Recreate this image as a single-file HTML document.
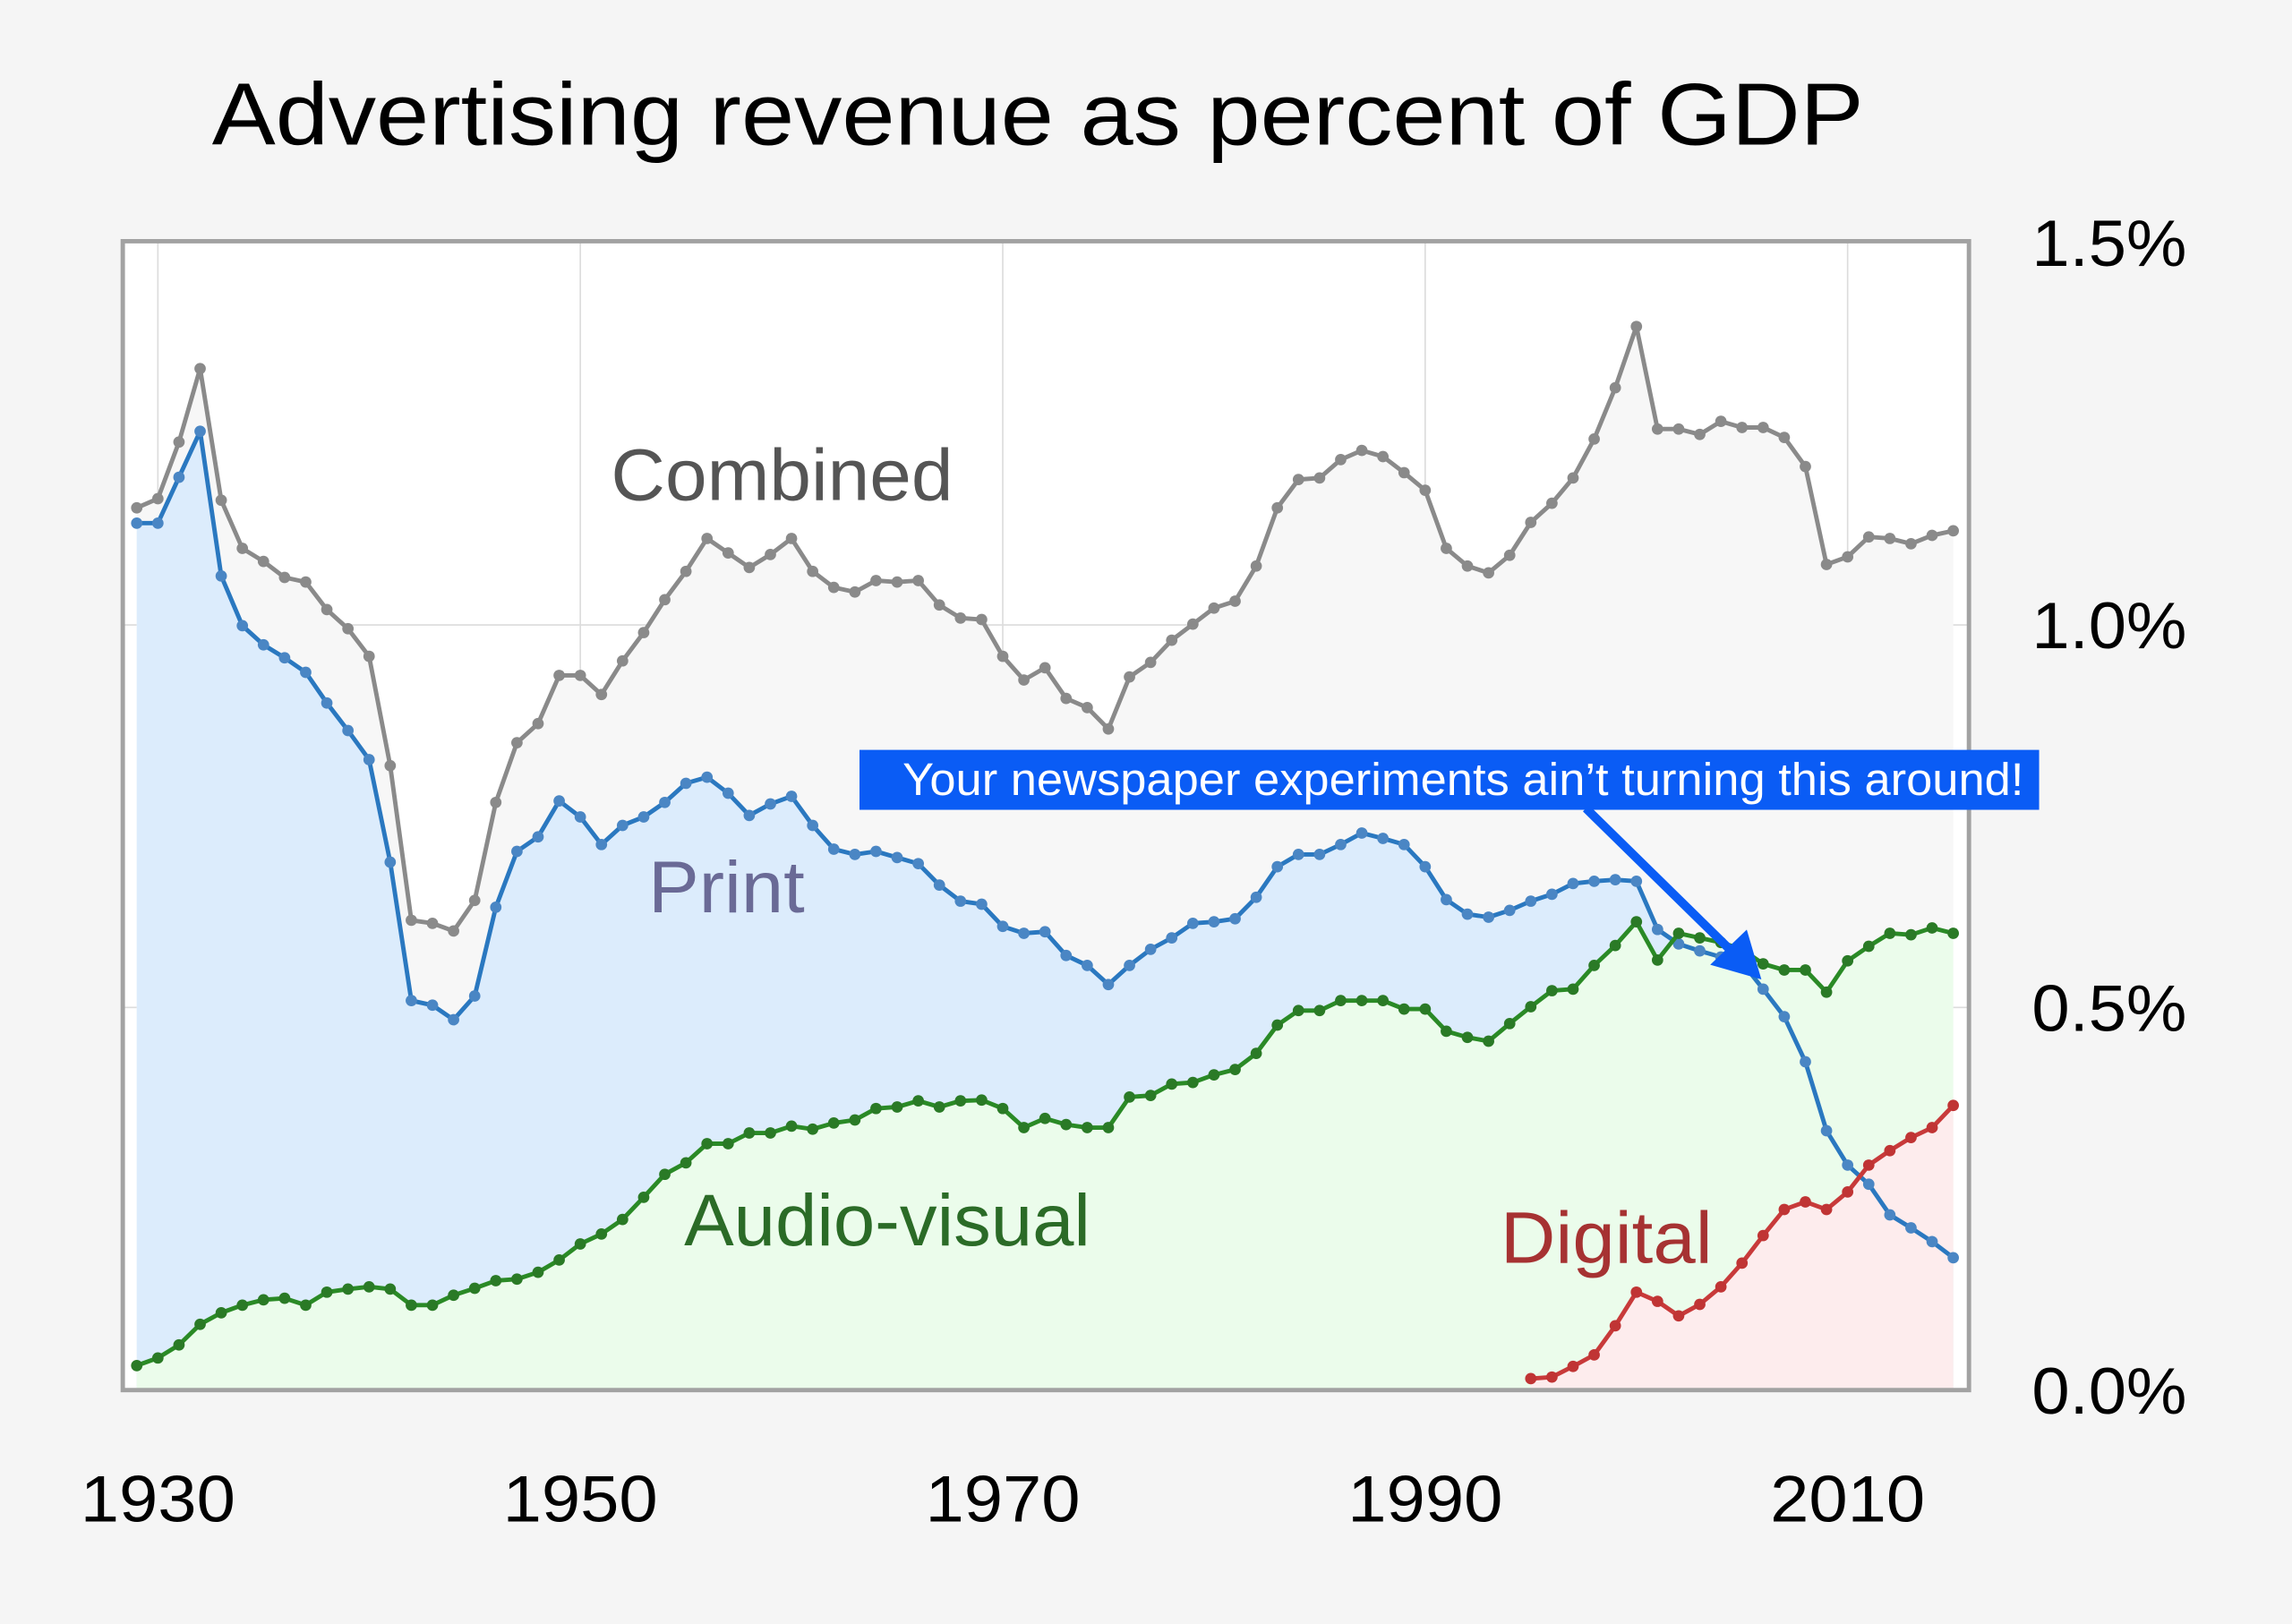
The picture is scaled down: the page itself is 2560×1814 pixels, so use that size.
<!DOCTYPE html>
<html><head><meta charset="utf-8"><style>
html,body{margin:0;padding:0;background:#f5f5f5;}
svg{display:block;font-family:"Liberation Sans",sans-serif;}
</style></head><body>
<svg id="chart" width="2560" height="1814" viewBox="0 0 1568 1111" xmlns="http://www.w3.org/2000/svg">
<rect x="0" y="0" width="1568" height="1111" fill="#f5f5f5"/>
<text x="710" y="99" text-anchor="middle" font-size="60" textLength="1130" lengthAdjust="spacingAndGlyphs" fill="#000">Advertising revenue as percent of GDP</text>
<rect x="84" y="165" width="1263" height="786" fill="#fff"/>
<g id="grid"></g>
<g id="areas"></g>
<g id="lines"></g>
<rect x="84" y="165" width="1263" height="786" fill="none" stroke="#a2a2a2" stroke-width="3"/>
<g id="xticks"></g>
<g id="yticks"></g>
<text x="535" y="342" text-anchor="middle" font-size="50" textLength="234" lengthAdjust="spacingAndGlyphs" fill="#555">Combined</text>
<text x="497" y="624" text-anchor="middle" font-size="50" textLength="107" lengthAdjust="spacingAndGlyphs" fill="#6a6a96">Print</text>
<text x="607" y="852" text-anchor="middle" font-size="50" textLength="278" lengthAdjust="spacingAndGlyphs" fill="#2b6b27">Audio-visual</text>
<text x="1099" y="864" text-anchor="middle" font-size="50" textLength="145" lengthAdjust="spacingAndGlyphs" fill="#a63232">Digital</text>
<g>
<line x1="1085" y1="553" x2="1190" y2="656" stroke="#0a5cf5" stroke-width="6"/>
<polygon points="1205,670 1170,660 1195,636" fill="#0a5cf5"/>
<rect x="588" y="513" width="807" height="41" fill="#0a5cf5"/>
<text x="1001" y="544" text-anchor="middle" font-size="31" textLength="767" lengthAdjust="spacingAndGlyphs" fill="#fff">Your newspaper experiments ain’t turning this around!</text>
</g>
</svg>
<script>
const years = [];
for (let y = 1929; y <= 2015; y++) years.push(y);
const combined = [1.153,1.165,1.239,1.335,1.163,1.10,1.083,1.062,1.056,1.02,0.995,0.959,0.816,0.614,0.61,0.60,0.64,0.768,0.846,0.871,0.934,0.934,0.909,0.953,0.99,1.033,1.07,1.113,1.094,1.075,1.092,1.113,1.07,1.049,1.043,1.058,1.056,1.058,1.026,1.009,1.007,0.959,0.928,0.944,0.904,0.892,0.864,0.932,0.951,0.98,1.001,1.022,1.031,1.077,1.153,1.19,1.192,1.216,1.228,1.22,1.199,1.176,1.10,1.077,1.068,1.091,1.134,1.159,1.192,1.243,1.31,1.39,1.256,1.256,1.249,1.266,1.258,1.258,1.245,1.207,1.079,1.089,1.115,1.113,1.106,1.117,1.123];
const print = [1.133,1.133,1.193,1.253,1.064,0.999,0.974,0.957,0.938,0.898,0.862,0.824,0.69,0.509,0.503,0.484,0.515,0.631,0.704,0.723,0.77,0.749,0.713,0.738,0.749,0.768,0.793,0.801,0.78,0.751,0.766,0.776,0.738,0.707,0.70,0.704,0.696,0.688,0.66,0.639,0.635,0.606,0.597,0.599,0.568,0.555,0.53,0.555,0.576,0.591,0.61,0.612,0.616,0.644,0.684,0.70,0.70,0.713,0.728,0.721,0.713,0.684,0.641,0.622,0.618,0.627,0.639,0.648,0.662,0.665,0.667,0.665,0.602,0.583,0.574,0.566,0.559,0.524,0.488,0.429,0.339,0.294,0.269,0.229,0.212,0.194,0.173];
const audioVisual = [0.032,0.042,0.059,0.086,0.101,0.111,0.118,0.12,0.111,0.128,0.132,0.135,0.132,0.111,0.111,0.124,0.133,0.143,0.145,0.154,0.17,0.191,0.204,0.223,0.252,0.282,0.297,0.322,0.322,0.336,0.336,0.345,0.341,0.349,0.353,0.368,0.37,0.378,0.37,0.378,0.379,0.368,0.343,0.355,0.347,0.343,0.343,0.383,0.385,0.40,0.402,0.412,0.419,0.44,0.477,0.496,0.496,0.509,0.509,0.509,0.498,0.498,0.469,0.461,0.456,0.479,0.501,0.522,0.524,0.555,0.581,0.612,0.562,0.597,0.591,0.585,0.576,0.557,0.549,0.549,0.52,0.561,0.58,0.597,0.595,0.604,0.597];
const digitalYears = [];
for (let y = 1995; y <= 2015; y++) digitalYears.push(y);
const digital = [0.015,0.017,0.031,0.046,0.084,0.128,0.116,0.097,0.112,0.135,0.166,0.202,0.236,0.246,0.236,0.259,0.294,0.313,0.33,0.343,0.372];
const xTickLabels = [1930,1950,1970,1990,2010];
const yTickValues = [0,0.5,1.0,1.5];
const yTickLabels = ["0.0%","0.5%","1.0%","1.5%"];

const NS = "http://www.w3.org/2000/svg";
const xS = yr => 108 + (yr - 1930) * 14.45;
const yS = v => 951 - v * 523.5;
function mk(tag, attrs, parent) {
  const e = document.createElementNS(NS, tag);
  for (const k in attrs) e.setAttribute(k, attrs[k]);
  parent.appendChild(e);
  return e;
}
const grid = document.getElementById('grid');
xTickLabels.forEach(t => {
  const l = mk('line', {x1: xS(t), x2: xS(t), y1: 165, y2: 951, stroke: '#dcdcdc', 'stroke-width': 1}, grid);
  
  
  const tx = mk('text', {x: xS(t), y: 1041, 'text-anchor': 'middle', 'font-size': 45, textLength: 106, lengthAdjust: 'spacingAndGlyphs', fill: '#000'}, document.getElementById('xticks'));
  tx.textContent = t;
  
  
});
yTickValues.forEach((v, i) => {
  if (v > 0 && v < 1.5) {
    const l = mk('line', {x1: 84, x2: 1347, y1: yS(v), y2: yS(v), stroke: '#dcdcdc', 'stroke-width': 1}, grid);
    
    
  }
  const tx = mk('text', {x: 1443, y: yS(v) + 16, 'text-anchor': 'middle', 'font-size': 45, textLength: 106, lengthAdjust: 'spacingAndGlyphs', fill: '#000'}, document.getElementById('yticks'));
  tx.textContent = yTickLabels[i];
  
  
});
function areaPath(xs, vs) {
  let d = 'M' + xS(xs[0]) + ',' + yS(0);
  xs.forEach((x, i) => d += ' L' + xS(x) + ',' + yS(vs[i]));
  d += ' L' + xS(xs[xs.length - 1]) + ',' + yS(0) + ' Z';
  return d;
}
function linePts(xs, vs) { return xs.map((x, i) => xS(x) + ',' + yS(vs[i])).join(' '); }
const series = [
  {name: 'combined', xs: years, vs: combined, fill: '#f7f7f7', stroke: '#8a8a8a', dot: '#8a8a8a'},
  {name: 'print', xs: years, vs: print, fill: '#dcecfc', stroke: '#2a78c0', dot: '#4a86c4'},
  {name: 'audio-visual', xs: years, vs: audioVisual, fill: '#ebfceb', stroke: '#2a8a26', dot: '#2a7a26'},
  {name: 'digital', xs: digitalYears, vs: digital, fill: '#fdeced', stroke: '#c83a3a', dot: '#c03434'}
];
const areas = document.getElementById('areas');
const lines = document.getElementById('lines');
series.forEach(s => {
  const a = mk('path', {d: areaPath(s.xs, s.vs), fill: s.fill}, areas);
  
  
});
series.forEach(s => {
  const g = mk('g', {}, lines);
  
  
  const pl = mk('polyline', {points: linePts(s.xs, s.vs), fill: 'none', stroke: s.stroke, 'stroke-width': 3, 'stroke-linejoin': 'round'}, g);
  
  
  s.xs.forEach((x, i) => {
    const c = mk('circle', {cx: xS(x), cy: yS(s.vs[i]), r: 3.9, fill: s.dot}, g);
    
    
  });
});
</script>
</body></html>
